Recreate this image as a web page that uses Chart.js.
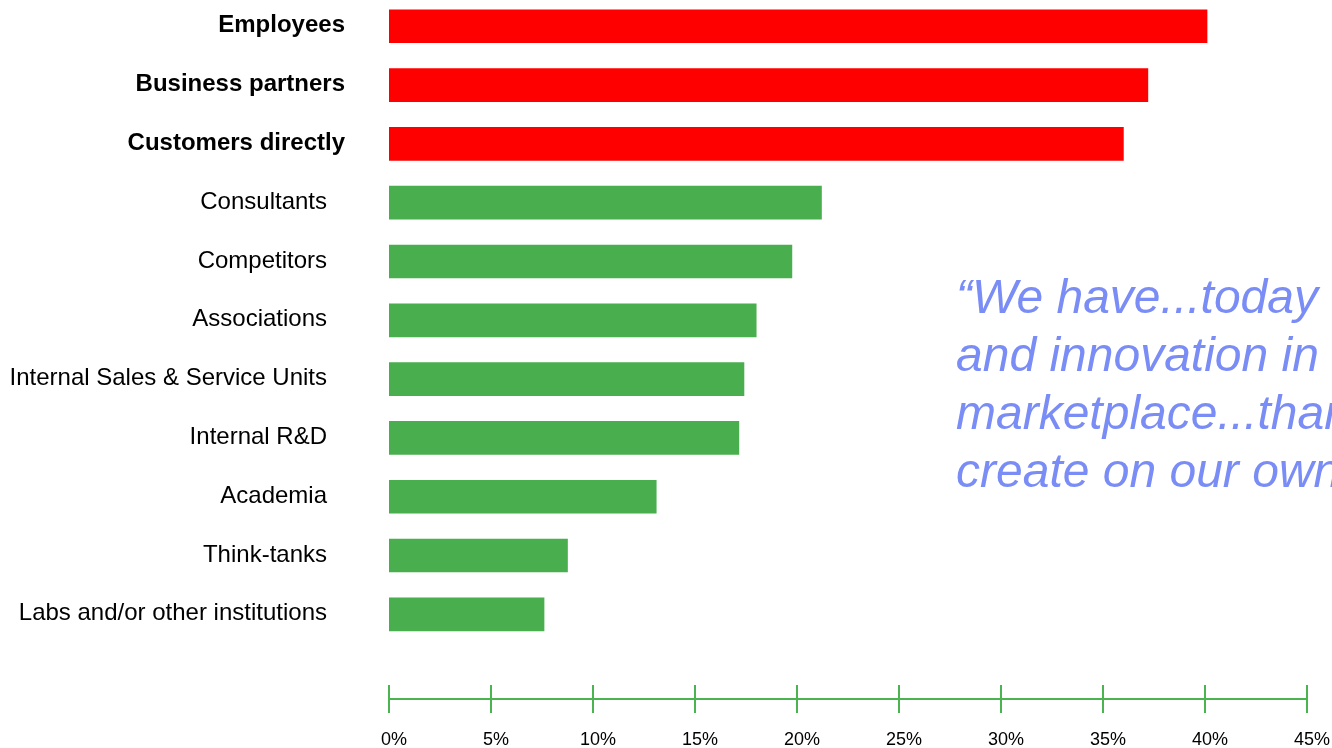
<!DOCTYPE html>
<html>
<head>
<meta charset="utf-8">
<script src="https://cdn.jsdelivr.net/npm/chart.js@4/dist/chart.umd.min.js"></script>
<style>
  html, body { margin: 0; padding: 0; background: #ffffff; }
  #wrap { width: 1332px; height: 748px; position: relative; }
</style>
</head>
<body>
<div id="wrap"><canvas id="c" width="1332" height="748"></canvas></div>
<script>
// ---- data ----
const categories = [
  'Employees',
  'Business partners',
  'Customers directly',
  'Consultants',
  'Competitors',
  'Associations',
  'Internal Sales & Service Units',
  'Internal R&D',
  'Academia',
  'Think-tanks',
  'Labs and/or other institutions'
];
const shares = [40.1, 37.2, 36.0, 21.2, 19.75, 18.0, 17.4, 17.15, 13.1, 8.75, 7.6];
const highlightedCount = 3; // first three sources shown in red / bold
const xTicks = [0, 5, 10, 15, 20, 25, 30, 35, 40, 45];
const xTickLabels = ['0%', '5%', '10%', '15%', '20%', '25%', '30%', '35%', '40%', '45%'];
const quoteLines = [
  '\u201CWe have...today access to more ideas',
  'and innovation in the',
  'marketplace...than we could',
  'create on our own.\u201D'
];

const FONT = '"Liberation Sans", Arial, Helvetica, sans-serif';
const RED = '#ff0000';
const GREEN = '#49ae4e';
const AXIS_GREEN = '#4bb34f';
const QUOTE = '#7a8cf5';

const points = shares.map((v, i) => ({ x: v, y: i }));

const categoryLabels = {
  id: 'categoryLabels',
  afterDraw(chart) {
    const { ctx, chartArea, scales } = chart;
    ctx.save();
    ctx.textBaseline = 'middle';
    ctx.textAlign = 'right';
    ctx.fillStyle = '#000000';
    categories.forEach((name, i) => {
      const bold = i < highlightedCount;
      ctx.font = (bold ? 'bold ' : '') + '24px ' + FONT;
      const y = scales.y.getPixelForValue(i) - 0.5;
      const x = chartArea.left - (bold ? 44 : 62);
      ctx.fillText(name, x, y);
    });
    ctx.restore();
  }
};

const axisLine = {
  id: 'axisLine',
  afterDraw(chart) {
    const { ctx, chartArea, scales } = chart;
    const yb = chartArea.bottom;
    ctx.save();
    ctx.strokeStyle = AXIS_GREEN;
    ctx.lineWidth = 2;
    ctx.beginPath();
    ctx.moveTo(scales.x.getPixelForValue(xTicks[0]), yb);
    ctx.lineTo(scales.x.getPixelForValue(xTicks[xTicks.length - 1]), yb);
    ctx.stroke();
    xTicks.forEach(t => {
      const x = Math.round(scales.x.getPixelForValue(t));
      ctx.beginPath();
      ctx.moveTo(x, yb - 14);
      ctx.lineTo(x, yb + 14);
      ctx.stroke();
    });
    ctx.fillStyle = '#000000';
    ctx.font = '18px ' + FONT;
    ctx.textAlign = 'center';
    ctx.textBaseline = 'alphabetic';
    xTicks.forEach((t, i) => {
      const x = scales.x.getPixelForValue(t) + 5;
      ctx.fillText(xTickLabels[i], x, yb + 46);
    });
    ctx.restore();
  }
};

const quote = {
  id: 'quote',
  afterDraw(chart) {
    const { ctx } = chart;
    ctx.save();
    ctx.font = 'italic 48px ' + FONT;
    ctx.fillStyle = QUOTE;
    ctx.textAlign = 'left';
    ctx.textBaseline = 'alphabetic';
    quoteLines.forEach((line, i) => {
      ctx.fillText(line, 956, 313 + i * 58);
    });
    ctx.restore();
  }
};

new Chart(document.getElementById('c'), {
  type: 'bar',
  data: {
    datasets: [{
      data: points,
      backgroundColor: ctx => ctx.dataIndex < highlightedCount ? RED : GREEN,
      borderWidth: 0,
      barThickness: 33
    }]
  },
  options: {
    indexAxis: 'y',
    responsive: false,
    animation: false,
    devicePixelRatio: 1,
    layout: { padding: { left: 389, right: 25, top: 0, bottom: 49 } },
    plugins: { legend: { display: false }, tooltip: { enabled: false } },
    scales: {
      y: {
        type: 'linear',
        reverse: true,
        offset: false,
        grace: 0,
        bounds: 'data',
        min: -0.447,
        max: 11.44,
        display: false
      },
      x: {
        type: 'linear',
        offset: false,
        min: 0,
        max: 45,
        display: false
      }
    }
  },
  plugins: [categoryLabels, axisLine, quote]
});
</script>
</body>
</html>
